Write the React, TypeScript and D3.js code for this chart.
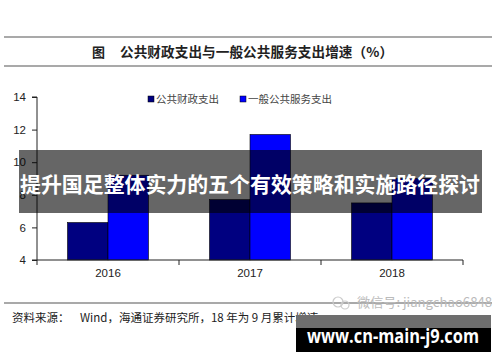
import * as d3 from 'd3'
import { useEffect, useRef } from 'react'

const years = ['2016', '2017', '2018']
const seriesNames = ['公共财政支出', '一般公共服务支出']
const fiscalSpend = [6.3, 7.7, 7.5]
const publicService = [9.2, 11.7, 9.0]
const yTicks = [4, 6, 8, 10, 12, 14]
const colors = ['#000080', '#0000ff']

const W = 500
const H = 362
const plot = { left: 37, right: 463, top: 97, bottom: 260 }
const cjk = '"Noto Sans CJK SC", sans-serif'
const latin = '"Liberation Sans", Arial, sans-serif'

export default function App() {
  const ref = useRef<SVGSVGElement>(null)

  useEffect(() => {
    const svg = d3.select(ref.current)
    svg.selectAll('*').remove()

    const pad = 0.43
    const x = d3.scaleBand().domain(years).range([plot.left, plot.right]).paddingInner(pad).paddingOuter(pad / 2)
    const xs = d3.scaleBand().domain(seriesNames).range([0, x.bandwidth()])
    const y = d3.scaleLinear().domain([4, 14]).range([plot.bottom, plot.top])

    // header rules + title
    svg.append('line').attr('x1', 4).attr('x2', 492).attr('y1', 37).attr('y2', 37).attr('stroke', '#555').attr('stroke-width', 1.2)
    svg.append('line').attr('x1', 4).attr('x2', 492).attr('y1', 66).attr('y2', 66).attr('stroke', '#555').attr('stroke-width', 1.2)
    svg.append('text').attr('x', 92).attr('y', 57).text('图')
      .attr('font-family', cjk).attr('font-size', 13).attr('font-weight', 700).attr('fill', '#222')
    svg.append('text').attr('x', 120).attr('y', 57).text('公共财政支出与一般公共服务支出增速（%）')
      .attr('font-family', cjk).attr('font-size', 13.6).attr('font-weight', 700).attr('fill', '#222')
      .attr('textLength', 273).attr('lengthAdjust', 'spacing')

    // legend
    const legendX = [148, 240]
    seriesNames.forEach((name, i) => {
      svg.append('rect').attr('x', legendX[i]).attr('y', 96).attr('width', 6).attr('height', 6)
        .attr('fill', colors[i]).attr('stroke', '#000').attr('stroke-width', 0.5)
      svg.append('text').attr('x', legendX[i] + 8).attr('y', 103).text(name)
        .attr('font-family', cjk).attr('font-size', 10.5).attr('fill', '#444')
    })

    // bars
    const values = [fiscalSpend, publicService]
    const g = svg.append('g')
    values.forEach((vals, si) => {
      g.selectAll(`rect.s${si}`)
        .data(vals)
        .enter()
        .append('rect')
        .attr('x', (_, i) => (x(years[i]) as number) + (xs(seriesNames[si]) as number))
        .attr('y', (d) => y(d))
        .attr('width', xs.bandwidth())
        .attr('height', (d) => plot.bottom - y(d))
        .attr('fill', colors[si])
        .attr('stroke', '#000')
        .attr('stroke-width', 0.6)
    })

    // y axis
    const yAxis = svg.append('g').attr('transform', `translate(${plot.left},0)`)
      .call(d3.axisLeft(y).tickValues(yTicks).tickSize(5).tickPadding(6).tickFormat(d3.format('d')))
    yAxis.selectAll('text').attr('font-family', latin).attr('font-size', 11.5).attr('fill', '#222')
    yAxis.selectAll('line, path').attr('stroke', '#222')
    yAxis.select('path').attr('d', `M-5,${plot.top}H0V${plot.bottom}H-5`)

    // x axis with boundary ticks
    const step = x.step()
    const bounds = [plot.left, ...years.map((yr) => (x(yr) as number) - (step * pad) / 2 + step)]
    const xAxis = svg.append('g')
    xAxis.append('line').attr('x1', plot.left).attr('x2', plot.right).attr('y1', plot.bottom).attr('y2', plot.bottom).attr('stroke', '#222')
    xAxis.selectAll('line.tick').data(bounds).enter().append('line')
      .attr('x1', (d) => d).attr('x2', (d) => d).attr('y1', plot.bottom).attr('y2', plot.bottom + 5).attr('stroke', '#222')
    xAxis.selectAll('text').data(years).enter().append('text')
      .attr('x', (d) => (x(d) as number) + x.bandwidth() / 2)
      .attr('y', 277)
      .attr('text-anchor', 'middle')
      .attr('font-family', latin).attr('font-size', 11.5).attr('fill', '#222')
      .text((d) => d)

    // overlay banner
    svg.append('rect').attr('x', 19).attr('y', 150).attr('width', 463).attr('height', 63).attr('fill', '#000').attr('opacity', 0.6)
    svg.append('text').attr('x', 250).attr('y', 192).attr('text-anchor', 'middle')
      .attr('font-family', cjk).attr('font-size', 21).attr('font-weight', 700).attr('fill', '#fff')
      .attr('textLength', 460).attr('lengthAdjust', 'spacingAndGlyphs')
      .text('提升国足整体实力的五个有效策略和实施路径探讨')

    // footer
    svg.append('line').attr('x1', 4).attr('x2', 492).attr('y1', 303).attr('y2', 303).attr('stroke', '#555').attr('stroke-width', 1.2)
    svg.append('text').attr('x', 12).attr('y', 322).text('资料来源：')
      .attr('font-family', cjk).attr('font-size', 11.5).attr('fill', '#222')
    svg.append('text').attr('x', 80).attr('y', 322).text('Wind，海通证券研究所，18 年为 9 月累计增速。')
      .attr('font-family', cjk).attr('font-size', 11.5).attr('fill', '#222')

    // watermark
    svg.append('circle').attr('cx', 338).attr('cy', 302).attr('r', 5).attr('fill', 'none').attr('stroke', '#ccc').attr('stroke-width', 1.2)
    svg.append('circle').attr('cx', 345).attr('cy', 305).attr('r', 4).attr('fill', 'none').attr('stroke', '#ccc').attr('stroke-width', 1.2)
    svg.append('text').attr('x', 357).attr('y', 307).text('微信号: jiangchao6848')
      .attr('font-family', cjk).attr('font-size', 13).attr('fill', '#bbb')
      .attr('textLength', 135).attr('lengthAdjust', 'spacingAndGlyphs')

    // site box
    svg.append('rect').attr('x', 296).attr('y', 315).attr('width', 195).attr('height', 37).attr('fill', '#000')
    svg.append('rect').attr('x', 296).attr('y', 315).attr('width', 195).attr('height', 13).attr('fill', '#6e6e6e')
    svg.append('text').attr('x', 393).attr('y', 343).attr('text-anchor', 'middle')
      .attr('font-family', '"Open Sans", sans-serif').attr('font-size', 20).attr('font-weight', 700).attr('fill', '#fff')
      .attr('textLength', 172).attr('lengthAdjust', 'spacingAndGlyphs')
      .text('www.cn-main-j9.com')
  }, [])

  return (
    <svg
      ref={ref}
      width={W}
      height={H}
      style={{ position: 'absolute', left: 0, top: 0, background: '#fff' }}
    />
  )
}
